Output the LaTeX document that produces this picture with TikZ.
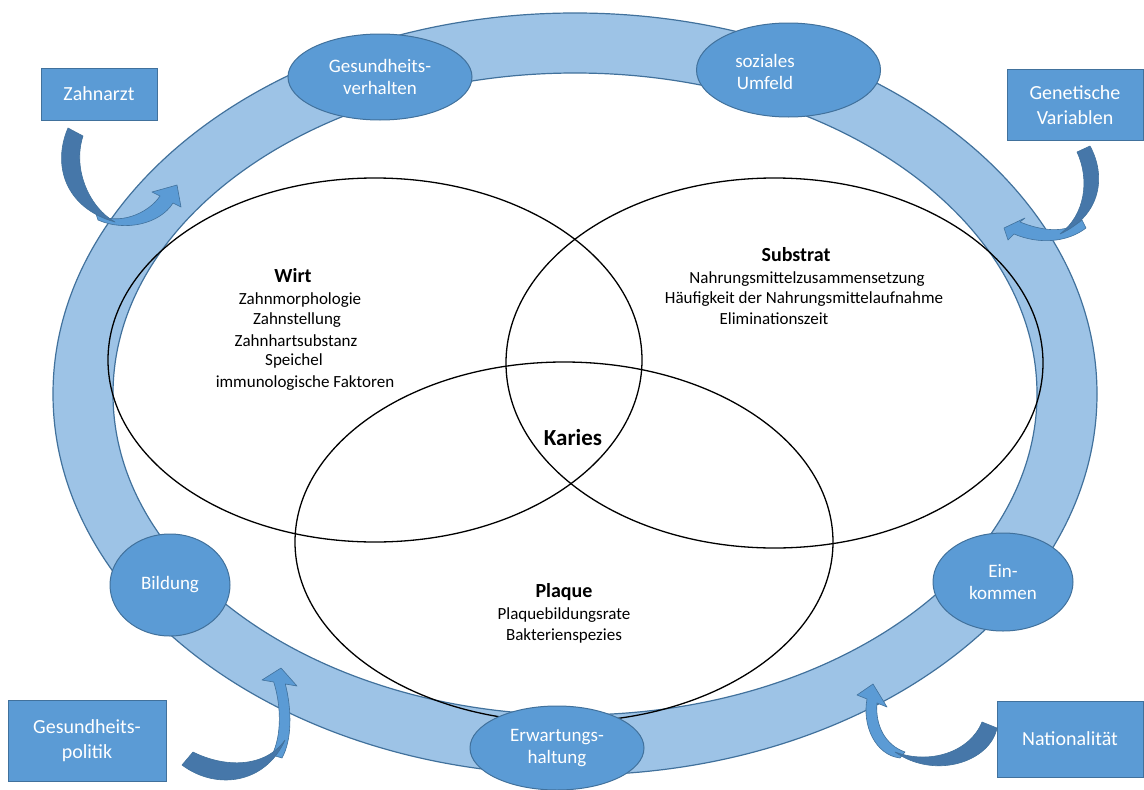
\documentclass[tikz,border=0pt]{standalone}
\usepackage{fontspec}
\setmainfont{Carlito}
\usetikzlibrary{shapes.geometric}
\definecolor{ringfill}{HTML}{9DC3E6}
\definecolor{edgeblue}{HTML}{41719C}
\definecolor{nodeblue}{HTML}{5B9BD5}
\definecolor{arrowdark}{HTML}{4677A9}
\tikzset{
  venn/.style={ellipse, draw=black, line width=1.3pt, inner sep=0pt},
  factor/.style={ellipse, fill=nodeblue, draw=edgeblue, line width=1pt, inner sep=0pt,
    text=white, align=center, font=\fontsize{19}{22.5}\selectfont},
  source/.style={rectangle, fill=nodeblue, draw=edgeblue, line width=1pt, inner sep=0pt,
    text=white, align=center, font=\fontsize{20}{25}\selectfont},
  head/.style={font=\bfseries\fontsize{20}{24}\selectfont, inner sep=0pt},
  item/.style={font=\fontsize{17}{21}\selectfont, inner sep=0pt},
  lightpart/.style={fill=nodeblue, draw=edgeblue, line width=0.6pt, line join=round},
  darkpart/.style={fill=arrowdark, draw=edgeblue, line width=0.6pt, line join=round},
}
\begin{document}
\begin{tikzpicture}[x=1pt, y=-1pt]
\useasboundingbox (0,0) rectangle (1144,790);

% ring of influencing factors
\path[fill=ringfill, draw=edgeblue, line width=1.2pt, even odd rule]
  (575,394) ellipse [x radius=522, y radius=381]
  (575,394) ellipse [x radius=462, y radius=321];

% the three overlapping circles
\node[venn, minimum width=534pt, minimum height=364pt] (wirt) at (375,360) {};
\node[venn, minimum width=537pt, minimum height=370pt] (substrat) at (774.5,363) {};
\node[venn, minimum width=538pt, minimum height=360pt] (plaque) at (564,542) {};

% curved arrows from the outer factors onto the ring
% Zahnarzt
\path[lightpart] (96,214) .. controls (118,226) and (148,214) .. (160,196)
  -- (152,192) -- (177,185) -- (181,207) -- (173,203)
  .. controls (160,224) and (125,232) .. (98,220) -- cycle;
\path[darkpart] (68,128) .. controls (52,165) and (65,208) .. (115,222)
  .. controls (90,208) and (72,170) .. (83,136) -- cycle;
% Genetische Variablen
\path[lightpart] (1082,220) .. controls (1065,235) and (1040,230) .. (1020,222)
  -- (1025,218) -- (1004,228) -- (1008,240) -- (1014,234)
  .. controls (1040,245) and (1068,242) .. (1086,228) -- cycle;
\path[darkpart] (1090,146) .. controls (1106,175) and (1102,215) .. (1060,234)
  .. controls (1085,215) and (1090,180) .. (1077,152) -- cycle;
% Gesundheitspolitik
\path[lightpart] (272,755) .. controls (282,735) and (281,705) .. (273.7,682)
  -- (262,680) -- (281,668) -- (297,686) -- (285.3,684)
  .. controls (292,710) and (292,740) .. (282,758) -- cycle;
\path[darkpart] (182,765) .. controls (215,790) and (265,785) .. (285,740)
  .. controls (265,768) and (225,768) .. (193,752) -- cycle;
% Nationalitaet
\path[lightpart] (900,758) .. controls (875,755) and (862,725) .. (867,699)
  -- (857,695) -- (873,684) -- (887,707) -- (877,703)
  .. controls (875,725) and (885,745) .. (905,752) -- cycle;
\path[darkpart] (997,728) .. controls (990,762) and (935,780) .. (895,752)
  .. controls (930,765) and (970,752) .. (982,722) -- cycle;

% factors sitting on the ring
\node[factor, minimum width=184pt, minimum height=86pt] (verhalten) at (380,77) {Gesundheits-\\verhalten};
\node[factor, minimum width=184pt, minimum height=94pt] (umfeld) at (788.5,70) {};
\node[text=white, align=center, inner sep=0pt, font=\fontsize{19}{22.5}\selectfont] (umfeldtext) at (765,72) {soziales\\Umfeld};
\node[factor, minimum width=120pt, minimum height=102pt] (bildung) at (170,585) {Bildung};
\node[factor, minimum width=140pt, minimum height=98pt] (einkommen) at (1003,582) {Ein-\\kommen};
\node[factor, minimum width=174pt, minimum height=84pt] (erwartung) at (557,748) {Erwartungs-\\haltung};

% outer sources
\node[source, minimum width=116pt, minimum height=52pt] (zahnarzt) at (99,94) {Zahnarzt};
\node[source, minimum width=136pt, minimum height=71pt] (genetik) at (1075,105) {Genetische\\Variablen};
\node[source, minimum width=158pt, minimum height=81pt] (politik) at (87,741) {Gesundheits-\\politik};
\node[source, minimum width=146pt, minimum height=76pt] (nation) at (1070,739) {Nationalität};

% Wirt
\node[head] (wirttitle) at (293,276) {Wirt};
\node[item] (w1) at (300,300) {Zahnmorphologie};
\node[item] (w2) at (297,320) {Zahnstellung};
\node[item] (w3) at (296,341) {Zahnhartsubstanz};
\node[item] (w4) at (294,361) {Speichel};
\node[item] (w5) at (305,383) {immunologische Faktoren};

% Substrat
\node[head] (subtitle) at (796,255) {Substrat};
\node[item] (s1) at (807,279) {Nahrungsmittelzusammensetzung};
\node[item] (s2) at (804,299) {Häufigkeit der Nahrungsmittelaufnahme};
\node[item] (s3) at (774,319) {Eliminationszeit};

% Plaque
\node[head] (plaquetitle) at (564,592) {Plaque};
\node[item] (p1) at (564,615) {Plaquebildungsrate};
\node[item] (p2) at (564,636) {Bakterienspezies};

% centre
\node[font=\bfseries\fontsize{23}{27}\selectfont, inner sep=0pt] (karies) at (573,438) {Karies};
\end{tikzpicture}
\end{document}
